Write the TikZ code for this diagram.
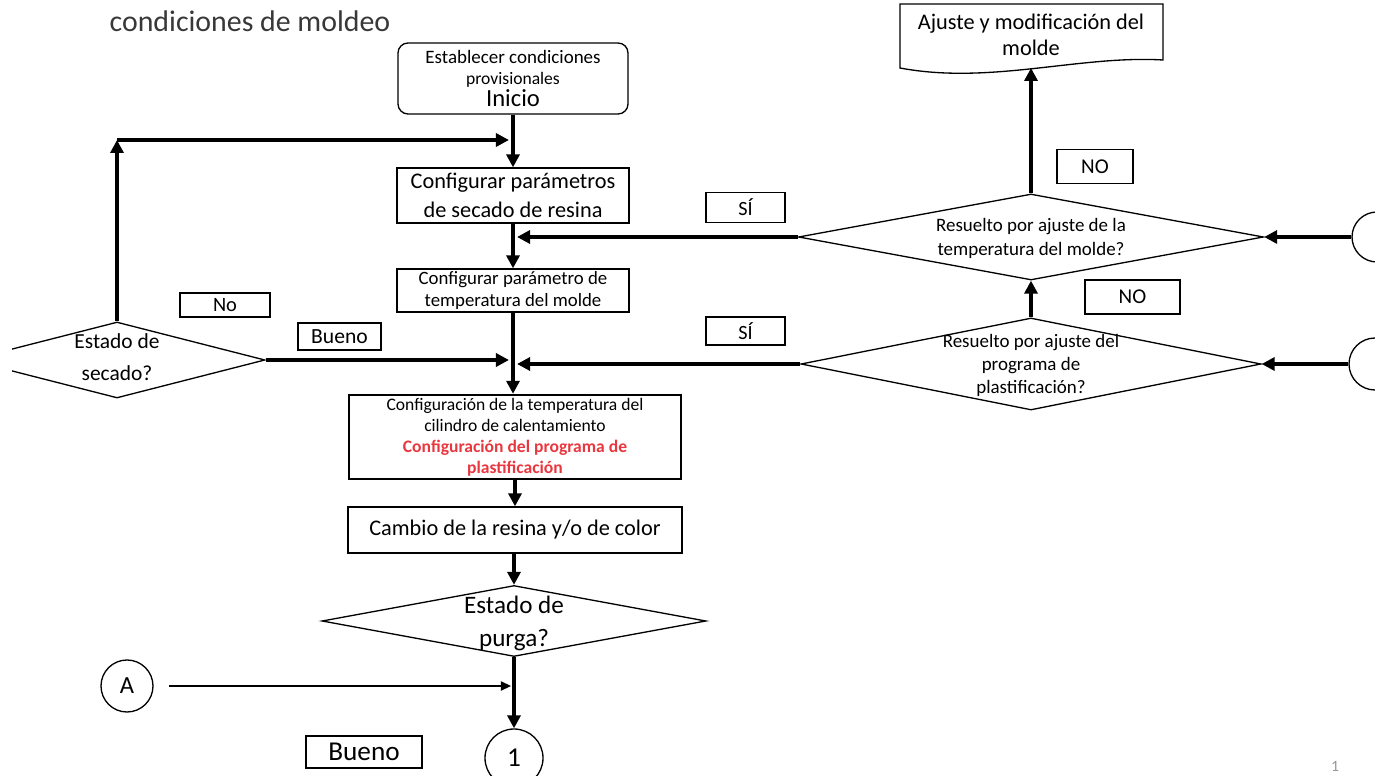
\documentclass[tikz,border=0pt]{standalone}
\usepackage{fontspec}
\setmainfont{Carlito}
\usetikzlibrary{arrows.meta,shapes.geometric}

\def\pu{0.02cm}
\definecolor{rojoplast}{RGB}{233,55,63}
\definecolor{numgris}{RGB}{150,150,150}

\tikzset{
	caja/.style={draw, line width=0.75pt, inner sep=0pt, align=center},
	rombo/.style={draw, diamond, line width=0.75pt, inner sep=0pt},
	circulo/.style={draw, circle, line width=0.75pt, inner sep=0pt},
	flecha/.style={line width=2.3pt, -{Triangle[length=7.4pt,width=7.4pt]}}
}

\begin{document}
\begin{tikzpicture}[x=\pu, y=-\pu]

	\useasboundingbox (0,0) rectangle (1375,776);
	\clip (12,0) rectangle (1375,776);

	\node[text=black!78, font=\fontsize{17}{20}\selectfont, anchor=base] (titulo) at (250,32) {condiciones de moldeo};

	\node[caja, rounded corners=5.7pt, minimum width=230*\pu, minimum height=71*\pu] (inicio) at (513,78.5)
		{\fontsize{10.8}{13}\selectfont Establecer condiciones\\provisionales\\\fontsize{14}{17.5}\selectfont Inicio};
	\node[caja, minimum width=232*\pu, minimum height=55*\pu, font=\fontsize{12.7}{16.4}\selectfont] (secadores) at (513,195.5)
		{Configurar parámetros\\de secado de resina};
	\node[caja, minimum width=232*\pu, minimum height=43*\pu, font=\fontsize{10.7}{12}\selectfont] (tempmolde) at (513,290.5)
		{Configurar parámetro de\\temperatura del molde};
	\node[caja, line width=1.4pt, minimum width=332*\pu, minimum height=84*\pu, font=\fontsize{10}{11.9}\selectfont] (cilindro) at (515,437)
		{Configuración de la temperatura del\\cilindro de calentamiento\\
		\textcolor{rojoplast}{\bfseries Configuración del programa de}\\\textcolor{rojoplast}{\bfseries plastificación}};
	\node[caja, minimum width=334*\pu, minimum height=46*\pu, font=\fontsize{12.7}{15}\selectfont] (resina) at (515,530)
		{Cambio de la resina y/o de color};

	\node[rombo, minimum width=384*\pu, minimum height=71*\pu,
		label={[align=center, font=\fontsize{14.3}{18.7}\selectfont, yshift=-1.5pt]center:{Estado de\\purga?}}] (purga) at (514,621) {};
	\node[rombo, minimum width=296*\pu, minimum height=76*\pu,
		label={[align=center, font=\fontsize{12.2}{18}\selectfont, yshift=1.5pt]center:{Estado de\\secado?}}] (secado) at (117,360) {};
	\node[rombo, minimum width=465*\pu, minimum height=86*\pu,
		label={[align=center, font=\fontsize{10.8}{13.6}\selectfont, yshift=-1pt]center:{Resuelto por ajuste de la\\temperatura del molde?}}] (ajmolde) at (1031,237) {};
	\node[rombo, minimum width=460*\pu, minimum height=92*\pu,
		label={[align=center, font=\fontsize{10.8}{13}\selectfont, yshift=-1pt]center:{Resuelto por ajuste del\\programa de\\plastificación?}}] (ajplast) at (1031,364) {};

	\node[circulo, minimum size=52*\pu, font=\fontsize{14}{16}\selectfont] (conA) at (127,686) {A};
	\node[circulo, minimum size=58*\pu, font=\fontsize{15.5}{18}\selectfont] (con1) at (514,758) {1};
	\node[circulo, minimum size=50*\pu] (conB) at (1377,237) {};
	\node[circulo, minimum size=52*\pu] (conC) at (1375,364) {};

	\node[caja, minimum width=90*\pu, minimum height=24*\pu, font=\fontsize{11.6}{13}\selectfont] (no) at (225,305) {No};
	\node[caja, minimum width=83*\pu, minimum height=27*\pu, font=\fontsize{12.3}{14}\selectfont] (bueno) at (339.5,336.5) {Bueno};
	\node[caja, minimum width=79*\pu, minimum height=30*\pu, font=\fontsize{11.5}{13}\selectfont] (si1) at (745.5,207.5) {SÍ};
	\node[caja, minimum width=79*\pu, minimum height=28*\pu, font=\fontsize{11.5}{13}\selectfont] (si2) at (745.5,331) {SÍ};
	\node[caja, minimum width=76*\pu, minimum height=34*\pu, font=\fontsize{12}{14}\selectfont] (no1) at (1095,166.5) {NO};
	\node[caja, minimum width=95*\pu, minimum height=34*\pu, font=\fontsize{12}{14}\selectfont] (no2) at (1132.5,297) {NO};
	\node[caja, minimum width=116*\pu, minimum height=32*\pu, font=\fontsize{15.5}{17}\selectfont] (bueno2) at (364,752) {Bueno};

	\node[align=center, font=\fontsize{12.7}{15}\selectfont] (ajuste) at (1031,35) {Ajuste y modificación del\\molde};
	\draw[line width=0.75pt] (900,4) -- (1163,4) -- (1163,60) .. controls (1080,55) and (990,85) .. (900,68) -- cycle;
	\coordinate (ajuste-base) at (1031,68);

	\coordinate (esquina) at (117,140);
	\coordinate (entrada) at (513,140);
	\coordinate (cruce) at (513,360);
	\coordinate (entradaA) at (514,686);

	\draw[flecha] (inicio.south) -- (secadores.north);
	\draw[flecha] (secado.north) -- (esquina);
	\draw[flecha, shorten >=2.3pt] (esquina) -- (entrada);
	\draw[flecha] (secadores.south) -- (tempmolde.north);
	\draw[flecha, shorten >=2.3pt] (ajmolde.west) -- (ajmolde.west -| secadores.south);
	\draw[flecha] (tempmolde.south) -- (tempmolde.south |- cilindro.north);
	\draw[flecha, shorten >=2.3pt] (secado.east) -- (cruce);
	\draw[flecha, shorten >=2.3pt] (ajplast.west) -- (ajplast.west -| cruce);
	\draw[flecha] (cilindro.south) -- (cilindro.south |- resina.north);
	\draw[flecha] (resina.south -| purga.north) -- (purga.north);
	\draw[flecha] (purga.south) -- (con1.north);
	\draw[line width=1.6pt, -{Triangle[length=6pt,width=5pt]}, shorten <=9pt, shorten >=1.5pt] (conA.east) -- (entradaA);

	\draw[flecha] (ajmolde.north) -- (ajuste-base);
	\draw[flecha] (ajplast.north) -- (ajmolde.south);
	\draw[flecha] (conB.west) -- (ajmolde.east);
	\draw[flecha] (conC.west) -- (ajplast.east);

	\node[text=numgris, font=\fontsize{9}{10}\selectfont] (pagina) at (1335,766) {1};

\end{tikzpicture}
\end{document}
